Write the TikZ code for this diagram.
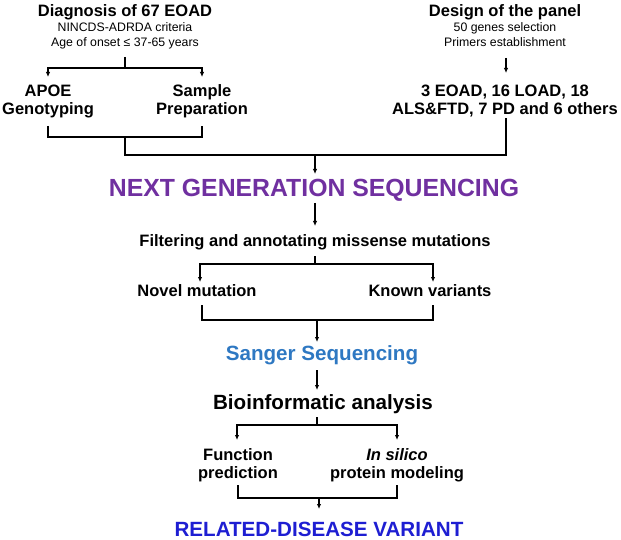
\documentclass[tikz,border=0pt]{standalone}
\usepackage{fontspec}
\setmainfont{Liberation Sans}
\usepackage{xcolor}
\usetikzlibrary{arrows.meta}

\definecolor{ngspurple}{HTML}{7030A0}
\definecolor{sangerblue}{HTML}{2E78C2}
\definecolor{variantblue}{HTML}{1E1ED2}

\tikzset{
  head/.style={font=\bfseries\fontsize{16.5}{19}\selectfont, anchor=base, inner sep=0pt},
  small/.style={font=\fontsize{12.3}{15}\selectfont, anchor=base, inner sep=0pt},
  big/.style={font=\bfseries\fontsize{20.6}{24}\selectfont, anchor=base, inner sep=0pt},
  link/.style={line width=1.2pt},
  arr/.style={link, -{Latex[length=5pt,width=4.5pt]}},
}

\begin{document}
\begin{tikzpicture}[x=1pt,y=-1pt]
\useasboundingbox (0,0) rectangle (621,540);

% Diagnostic (gauche)
\node[head] (diag) at (125,16.5) {Diagnosis of 67 EOAD};
\node[small] (crit) at (125,32) {NINCDS-ADRDA criteria};
\node[small] (onset) at (125,47) {Age of onset ≤ 37-65 years};

% Panel (droite)
\node[head] (design) at (505,16.5) {Design of the panel};
\node[small] (genes) at (505,32) {50 genes selection};
\node[small] (primers) at (505,47) {Primers establishment};

% APOE et echantillons
\node[head] (apoe) at (48,97) {APOE};
\node[head] (geno) at (48,115) {Genotyping};
\node[head] (sample) at (202,97) {Sample};
\node[head] (prep) at (202,115) {Preparation};

% Genes du panel
\node[head] (eoad) at (505,97) {3 EOAD, 16 LOAD, 18};
\node[head] (als) at (505,115) {ALS\&FTD, 7 PD and 6 others};

% NGS
\node[head, font=\bfseries\fontsize{24.8}{28}\selectfont, text=ngspurple] (ngs) at (314,197) {NEXT GENERATION SEQUENCING};

% Filtrage
\node[head] (filter) at (315,247) {Filtering and annotating missense mutations};
\node[head] (novel) at (197,296) {Novel mutation};
\node[head] (known) at (430,296) {Known variants};

% Sanger et bioinformatique
\node[big, text=sangerblue] (sanger) at (322,360) {Sanger Sequencing};
\node[big] (bioinfo) at (323,409) {Bioinformatic analysis};
\node[head] (func) at (238,460) {Function};
\node[head] (pred) at (238,478) {prediction};
\node[head, font=\bfseries\itshape\fontsize{16.5}{19}\selectfont] (silico) at (397,460) {In silico};
\node[head] (model) at (397,478) {protein modeling};

% Resultat
\node[big, text=variantblue] (variant) at (319,536) {RELATED-DISEASE VARIANT};

% Points de jonction
\coordinate (diagout) at (125,57);
\coordinate (diagj) at (125,68);
\coordinate (apoein) at (48,77);
\coordinate (samplein) at (202,77);
\coordinate (apoeout) at (48,126);
\coordinate (sampleout) at (202,126);
\coordinate (leftj) at (125,137);
\coordinate (mainj) at (125,155);
\coordinate (ngsj) at (315,155);
\coordinate (ngsin) at (315,174);
\coordinate (designout) at (506,58);
\coordinate (eoadin) at (506,73);
\coordinate (alsout) at (506,118);
\coordinate (ngsout) at (315,203);
\coordinate (filterin) at (315,226);
\coordinate (filterout) at (315,256);
\coordinate (filterj) at (315,264);
\coordinate (novelin) at (200,282);
\coordinate (knownin) at (433,282);
\coordinate (novelout) at (202,305);
\coordinate (knownout) at (433,305);
\coordinate (varj) at (317,320);
\coordinate (sangerin) at (317,342);
\coordinate (sangerout) at (317,370);
\coordinate (bioin) at (317,390);
\coordinate (bioout) at (317,417);
\coordinate (bioj) at (317,425);
\coordinate (funcin) at (237,440);
\coordinate (silicoin) at (397,440);
\coordinate (predout) at (238,485);
\coordinate (modelout) at (397,485);
\coordinate (resj) at (319,498);
\coordinate (variantin) at (319,509);

% Liens
\draw[link] (diagout) -- (diagj);
\draw[arr] (diagj) -| (apoein);
\draw[arr] (diagj) -| (samplein);
\draw[link] (apoeout) |- (leftj) -| (sampleout);
\draw[link] (leftj) -- (mainj) -| (alsout);
\draw[arr] (ngsj) -- (ngsin);
\draw[arr] (designout) -- (eoadin);
\draw[arr] (ngsout) -- (filterin);
\draw[link] (filterout) -- (filterj);
\draw[arr] (filterj) -| (novelin);
\draw[arr] (filterj) -| (knownin);
\draw[link] (novelout) |- (varj) -| (knownout);
\draw[arr] (varj) -- (sangerin);
\draw[arr] (sangerout) -- (bioin);
\draw[link] (bioout) -- (bioj);
\draw[arr] (bioj) -| (funcin);
\draw[arr] (bioj) -| (silicoin);
\draw[link] (predout) |- (resj) -| (modelout);
\draw[arr] (resj) -- (variantin);

\end{tikzpicture}
\end{document}
